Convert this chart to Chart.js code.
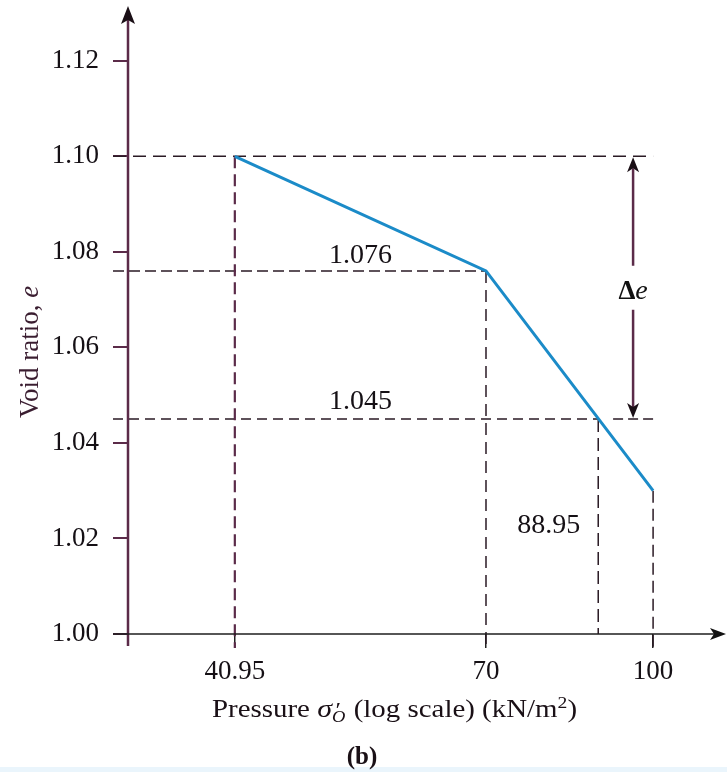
<!DOCTYPE html>
<html><head><meta charset="utf-8">
<style>html,body{margin:0;padding:0;background:#fff}#wrap{width:727px;height:772px;position:relative}</style>
<script src="https://cdn.jsdelivr.net/npm/chart.js@4"></script>
</head><body><div id="wrap"><canvas id="c" width="727" height="772"></canvas></div>
<script>
// ---- data ----
const pressures = [40.95, 70, 100];          // kN/m2
const voidRatios = [1.10, 1.076, 1.03];      // e
const xTickValues = [40.95, 70, 100];
const xTickLabels = ['40.95', '70', '100'];
const yTickValues = [1.00, 1.02, 1.04, 1.06, 1.08, 1.10, 1.12];
const yTickLabels = ['1.00', '1.02', '1.04', '1.06', '1.08', '1.10', '1.12'];
const readPressure = 88.95;                   // read-off pressure
const readVoid = 1.045;                       // read-off void ratio
const readLabels = ['1.076', '1.045', '88.95'];
const xRange = [32.6, 113.4];
const yRange = [1.00, 1.13];

const SERIF = '"Liberation Serif", "Times New Roman", serif';
const MAROON = '#5b2b49';
const DARK = '#2a1a24';

function drawRuns(ctx, x, y, runs) {
  let cx = x;
  for (const r of runs) {
    ctx.font = r.font;
    ctx.fillText(r.t, cx + (r.dx || 0), y + (r.dy || 0));
    if (!r.noAdvance) cx += ctx.measureText(r.t).width + (r.extra || 0);
  }
  return cx;
}
function runsWidth(ctx, runs) {
  let w = 0;
  for (const r of runs) { ctx.font = r.font; if (!r.noAdvance) w += ctx.measureText(r.t).width + (r.extra || 0); }
  return w;
}

const decorPlugin = {
  id: 'decor',
  beforeDraw(chart) {
    const ctx = chart.ctx;
    ctx.save();
    ctx.fillStyle = '#ffffff';
    ctx.fillRect(0, 0, chart.width, chart.height);
    ctx.fillStyle = '#eaf5fc';
    ctx.fillRect(0, chart.height - 5, chart.width, 5);
    ctx.restore();
  },
  beforeDatasetsDraw(chart) {
    const ctx = chart.ctx, xs = chart.scales.x, ys = chart.scales.y, a = chart.chartArea;
    const x0 = a.left - 15, below = a.bottom + 14;
    const arrowX = xs.getPixelForValue(pressures[2]) - 20;
    function seg(x1, y1, x2, y2, dash, color, lw) {
      ctx.save();
      ctx.setLineDash(dash); ctx.strokeStyle = color; ctx.lineWidth = lw;
      ctx.beginPath(); ctx.moveTo(x1, y1); ctx.lineTo(x2, y2); ctx.stroke();
      ctx.restore();
    }
    const yA = ys.getPixelForValue(voidRatios[0]);
    const yB = ys.getPixelForValue(voidRatios[1]);
    const yC = ys.getPixelForValue(voidRatios[2]);
    const yR = ys.getPixelForValue(readVoid);
    const xA = xs.getPixelForValue(pressures[0]);
    const xB = xs.getPixelForValue(pressures[1]);
    const xC = xs.getPixelForValue(pressures[2]);
    const xR = xs.getPixelForValue(readPressure);
    // horizontal guides
    seg(x0, yA, arrowX + 20, yA, [13, 7], DARK, 1.6);
    seg(x0, yB, xB, yB, [11, 5], DARK, 1.5);
    seg(x0, yR, xR, yR, [10, 6], DARK, 1.5);
    seg(arrowX - 20, yR, arrowX + 20, yR, [10, 5], DARK, 1.5);
    // vertical guides
    seg(xA, yA, xA, below, [12, 6], MAROON, 2.2);
    seg(xB, yB, xB, below, [12, 7], DARK, 1.5);
    seg(xR, yR, xR, a.bottom, [13, 6], DARK, 1.5);
    seg(xC, yC, xC, below, [12, 6], DARK, 1.5);

    // Δe arrow
    const mid = (yA + yR) / 2 + 4;
    ctx.save();
    ctx.strokeStyle = MAROON; ctx.fillStyle = '#1a0f16'; ctx.lineWidth = 2.5;
    ctx.beginPath();
    ctx.moveTo(arrowX, yA + 12); ctx.lineTo(arrowX, mid - 26);
    ctx.moveTo(arrowX, mid + 18); ctx.lineTo(arrowX, yR - 12);
    ctx.stroke();
    ctx.beginPath();
    ctx.moveTo(arrowX, yA + 1); ctx.lineTo(arrowX - 6, yA + 16); ctx.lineTo(arrowX, yA + 12); ctx.lineTo(arrowX + 6, yA + 16); ctx.closePath(); ctx.fill();
    ctx.beginPath();
    ctx.moveTo(arrowX, yR - 1); ctx.lineTo(arrowX - 6, yR - 16); ctx.lineTo(arrowX, yR - 12); ctx.lineTo(arrowX + 6, yR - 16); ctx.closePath(); ctx.fill();
    ctx.fillStyle = '#111';
    ctx.textBaseline = 'middle'; ctx.textAlign = 'left';
    const dRuns = [
      { t: '\u0394', font: 'bold 27px ' + SERIF },
      { t: 'e', font: 'italic 28px ' + SERIF }
    ];
    drawRuns(ctx, arrowX - runsWidth(ctx, dRuns) / 2, mid, dRuns);
    ctx.restore();

    // read-off labels
    ctx.save();
    ctx.fillStyle = '#151015';
    ctx.font = '28px ' + SERIF;
    ctx.textAlign = 'center'; ctx.textBaseline = 'alphabetic';
    const lx = (xA + xB) / 2;
    ctx.fillText(readLabels[0], lx, yB - 8);
    ctx.fillText(readLabels[1], lx, yR - 10);
    ctx.textAlign = 'right'; ctx.textBaseline = 'middle';
    ctx.fillText(readLabels[2], xR - 18, (yR + a.bottom) / 2 - 1);
    ctx.restore();
  },
  afterDraw(chart) {
    const ctx = chart.ctx, a = chart.chartArea;
    ctx.save();
    // y axis with arrow
    ctx.strokeStyle = MAROON; ctx.lineWidth = 2.5;
    ctx.beginPath(); ctx.moveTo(a.left, 14); ctx.lineTo(a.left, a.bottom + 12); ctx.stroke();
    ctx.fillStyle = '#1a0f16';
    ctx.beginPath();
    ctx.moveTo(a.left, 6); ctx.lineTo(a.left - 7, 24); ctx.lineTo(a.left, 20); ctx.lineTo(a.left + 7, 24); ctx.closePath(); ctx.fill();
    // x axis with arrow
    ctx.strokeStyle = '#1e1e1e'; ctx.lineWidth = 1.6;
    ctx.beginPath(); ctx.moveTo(a.left - 15, a.bottom); ctx.lineTo(a.right + 2, a.bottom); ctx.stroke();
    ctx.fillStyle = '#111';
    ctx.beginPath();
    ctx.moveTo(a.right + 14, a.bottom); ctx.lineTo(a.right - 2, a.bottom - 6); ctx.lineTo(a.right + 2, a.bottom); ctx.lineTo(a.right - 2, a.bottom + 6); ctx.closePath(); ctx.fill();

    // y axis title
    ctx.save();
    ctx.translate(38, 352);
    ctx.rotate(-Math.PI / 2);
    ctx.fillStyle = '#3a1d30';
    ctx.textBaseline = 'alphabetic';
    const yRuns = [
      { t: 'Void ratio, ', font: '27px ' + SERIF },
      { t: 'e', font: 'italic 27px ' + SERIF }
    ];
    drawRuns(ctx, -runsWidth(ctx, yRuns) / 2, 0, yRuns);
    ctx.restore();

    // x axis title (slightly widened like the reference typeface)
    ctx.save();
    ctx.fillStyle = '#1a1016';
    ctx.textBaseline = 'alphabetic'; ctx.textAlign = 'left';
    const f = '25px ' + SERIF, fi = 'italic 26px ' + SERIF, fs = '17px ' + SERIF, fsi = 'italic 16px ' + SERIF, fp = '22px ' + SERIF;
    const tRuns = [
      { t: 'Pressure ', font: f },
      { t: '\u03C3', font: fi },
      { t: '\u2032', font: fp, dx: 3, dy: 0, noAdvance: true },
      { t: 'O', font: fsi, dy: 5, extra: 1 },
      { t: ' (log scale) (kN/m', font: f },
      { t: '2', font: fs, dy: -9 },
      { t: ')', font: f }
    ];
    const tw = runsWidth(ctx, tRuns);
    const sx = 365 / tw;
    ctx.translate(212, a.bottom + 83);
    ctx.scale(sx, 1);
    drawRuns(ctx, 0, 0, tRuns);
    ctx.restore();

    ctx.fillStyle = '#1a1016';
    ctx.font = 'bold 25px ' + SERIF;
    ctx.textAlign = 'center'; ctx.textBaseline = 'alphabetic';
    ctx.fillText('(b)', 362, a.bottom + 130);
    ctx.restore();
  }
};

new Chart(document.getElementById('c'), {
  type: 'line',
  data: {
    datasets: [{
      data: pressures.map((p, i) => ({ x: p, y: voidRatios[i] })),
      borderColor: '#1b8bc8',
      borderWidth: 3,
      pointRadius: 0,
      tension: 0,
      fill: false
    }]
  },
  options: {
    responsive: false,
    animation: false,
    devicePixelRatio: 1,
    layout: { padding: { left: 0, right: 15, top: 13, bottom: 0 } },
    plugins: { legend: { display: false }, tooltip: { enabled: false }, title: { display: false } },
    scales: {
      x: {
        type: 'logarithmic',
        min: xRange[0], max: xRange[1],
        afterBuildTicks: s => { s.ticks = xTickValues.map(v => ({ value: v })); },
        afterFit: s => { s.height = 138; s.paddingLeft = 0; s.paddingRight = 0; },
        ticks: {
          autoSkip: false, maxRotation: 0, minRotation: 0,
          callback: (v, i) => xTickLabels[i],
          font: { family: SERIF, size: 27 },
          color: '#151015',
          padding: 8
        },
        grid: { drawOnChartArea: false, drawTicks: true, tickLength: 14, color: '#222', lineWidth: 1.5 },
        border: { display: false }
      },
      y: {
        type: 'linear',
        min: yRange[0], max: yRange[1],
        afterBuildTicks: s => { s.ticks = yTickValues.map(v => ({ value: v })); },
        afterFit: s => { s.width = 128; s.paddingTop = 0; s.paddingBottom = 0; },
        ticks: {
          callback: (v, i) => yTickLabels[i],
          font: { family: SERIF, size: 27 },
          color: '#151015',
          padding: 14
        },
        grid: { drawOnChartArea: false, drawTicks: true, tickLength: 15, color: MAROON, lineWidth: 2 },
        border: { display: false }
      }
    }
  },
  plugins: [decorPlugin]
});
</script>
</body></html>
